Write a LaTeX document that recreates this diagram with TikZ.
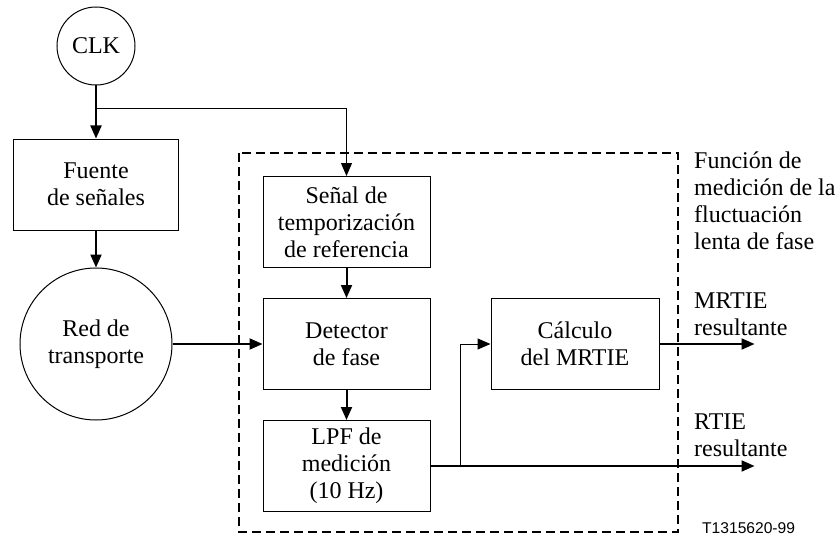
\documentclass[tikz,border=0pt]{standalone}
\usepackage{fontspec}
\setmainfont{Liberation Serif}
\newfontfamily\tagfont{Liberation Sans}
\usetikzlibrary{arrows.meta,positioning}

\begin{document}
\begin{tikzpicture}[
  x=1pt, y=-1pt, >={Triangle[length=13pt,width=11pt]},
  font=\fontsize{24}{27}\selectfont,
  box/.style={draw, line width=1pt, align=center, minimum width=167pt,
              minimum height=91pt, inner sep=2pt},
  round/.style={draw, circle, line width=1pt, align=center, inner sep=0pt},
  flow/.style={->, line width=2pt},
  feed/.style={->, line width=1pt},
  lbl/.style={align=left, inner sep=0pt}]
\useasboundingbox (0,0) rectangle (839,535);
\node[round, minimum size=78pt] (clk) at (96,46) {CLK};
\node[box, minimum width=165pt, below=53pt of clk] (src) {Fuente\\de señales};
\node[round, minimum size=152pt, below=37pt of src] (net) {Red de\\transporte};
\node[box, right=90pt of net] (det) {Detector\\de fase};
\node[box, above=30pt of det] (ref) {Señal de\\temporización\\de referencia};
\node[box, below=30pt of det] (lpf) {LPF de\\medición\\(10 Hz)};
\node[box, minimum width=168pt, right=60pt of det] (mrt) {Cálculo\\del MRTIE};
\coordinate (split) at ([yshift=-23pt]clk.south);
\coordinate (tap)   at ([xshift=30pt]lpf.east);
\coordinate (mout)  at ([xshift=95pt]mrt.east);
\coordinate (rout)  at (mout |- lpf.east);
\coordinate (fa) at (239,153);
\coordinate (fb) at (678,532);
% measurement function frame
\draw[line width=2pt, dash pattern=on 9pt off 5pt] (fa) rectangle (fb);
\draw[flow] (clk) -- (src);
\draw[feed] (split) -| (ref.north);
\draw[flow] (src) -- (net);
\draw[flow] (net) -- (det);
\draw[flow] (ref) -- (det);
\draw[flow] (det) -- (lpf);
\draw[flow] (lpf.east) -- (rout);
\draw[feed] (tap) |- (mrt.west);
\draw[flow] (mrt) -- (mout);
\node[lbl, anchor=north west] (fname) at (694,152)
  {Función de\\medición de la\\fluctuación\\lenta de fase};
\node[lbl, anchor=south west] (mtxt) at (694,336) {MRTIE\\resultante};
\node[lbl, anchor=south west] (rtxt) at (694,457) {RTIE\\resultante};
\node[anchor=base west, inner sep=0pt, font=\tagfont\fontsize{15.6}{18}\selectfont]
  (tag) at (702,533) {T1315620-99};
\end{tikzpicture}
\end{document}
